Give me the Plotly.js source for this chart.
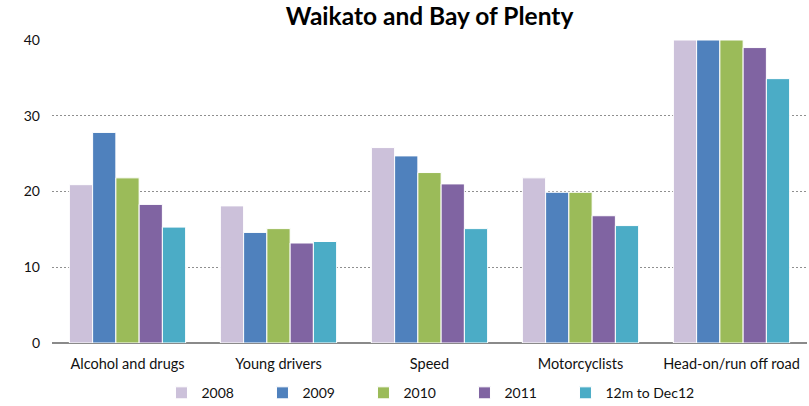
<!DOCTYPE html>
<html>
<head>
<meta charset="utf-8">
<script src="https://cdn.plot.ly/plotly-3.0.1.min.js"></script>
<style>html,body{margin:0;padding:0;background:#fff;}#chart{width:809px;height:406px;}</style>
</head>
<body>
<div id="chart"></div>
<script>
const categories = ["Alcohol and drugs", "Young drivers", "Speed", "Motorcyclists", "Head-on/run off road"];
const seriesNames = ["2008", "2009", "2010", "2011", "12m to Dec12"];
const v2008 = [20.9, 18.1, 25.8, 21.8, 40];
const v2009 = [27.8, 14.6, 24.7, 19.9, 40];
const v2010 = [21.8, 15.1, 22.5, 19.9, 40];
const v2011 = [18.3, 13.2, 21.0, 16.8, 39.0];
const v12m  = [15.3, 13.4, 15.1, 15.5, 34.9];
const yTicks = [0, 10, 20, 30, 40];

const colors = ["#CCC1DA", "#4F81BD", "#9BBB59", "#8064A2", "#4BACC6"];
const allValues = [v2008, v2009, v2010, v2011, v12m];

const font = "Lato, 'Open Sans', 'Liberation Sans', sans-serif";

const traces = allValues.map((vals, i) => ({
  type: "bar",
  name: seriesNames[i],
  x: categories,
  y: vals,
  marker: {color: colors[i], line: {color: "#ffffff", width: 1}},
  legendwidth: i === allValues.length - 1 ? 100 : 56,
  hoverinfo: "x+y+name"
}));

const layout = {
  width: 809, height: 406,
  margin: {l: 52, r: 2, t: 40, b: 63, autoexpand: false},
  paper_bgcolor: "#ffffff",
  plot_bgcolor: "#ffffff",
  font: {family: font, size: 14, color: "#111111"},
  title: {text: "<b>Waikato and Bay of Plenty</b>", font: {family: font, size: 24.5, color: "#000000"}, x: 0.5, xref: "paper", xanchor: "center", y: 0.96, yref: "container", yanchor: "middle"},
  barmode: "group",
  bargap: 0.23,
  bargroupgap: 0,
  xaxis: {
    type: "category",
    showgrid: false,
    showline: false,
    ticks: "",
    tickfont: {size: 14.5},
    ticklabelstandoff: 10,
    zeroline: false
  },
  yaxis: {
    range: [0, 40],
    tickvals: yTicks,
    ticktext: yTicks.map(String),
    showgrid: true,
    gridcolor: "#8f8f8f",
    griddash: "2px,2px",
    gridwidth: 1,
    zeroline: true,
    zerolinecolor: "#8a8a8a",
    zerolinewidth: 2,
    showline: false,
    ticks: "",
    ticklabelstandoff: 11,
    tickfont: {size: 14}
  },
  showlegend: true,
  legend: {
    orientation: "h",
    x: 0.145, xanchor: "left",
    y: -0.113, yanchor: "top",
    font: {size: 14},
    itemclick: false
  }
};

Plotly.newPlot("chart", traces, layout, {displayModeBar: false, staticPlot: true});
</script>
</body>
</html>
